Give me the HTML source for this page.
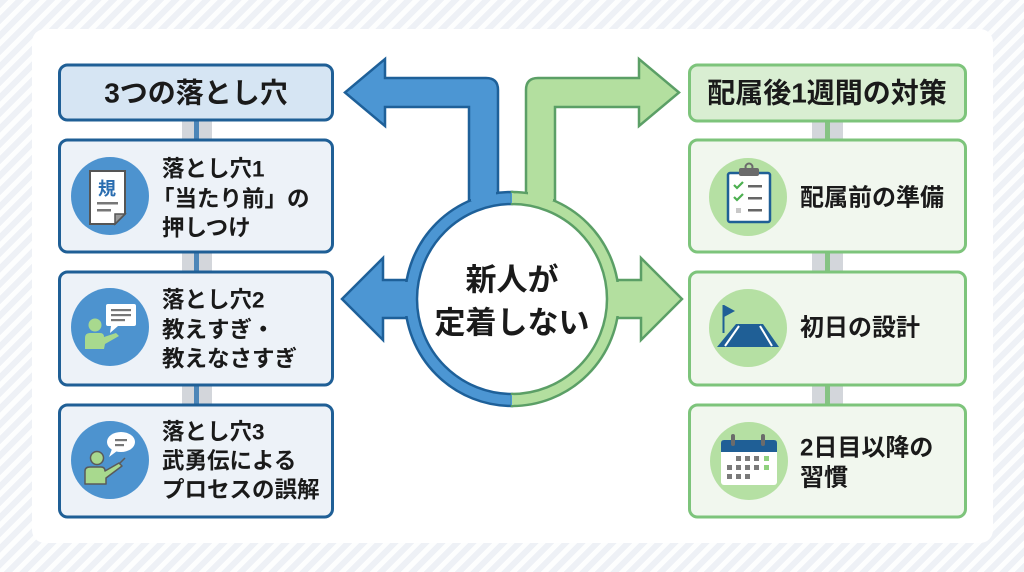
<!DOCTYPE html>
<html><head><meta charset="utf-8">
<style>
html,body{margin:0;padding:0;}
body{width:1024px;height:572px;overflow:hidden;
background:#eef1f6;
background-image:repeating-linear-gradient(135deg, rgba(255,255,255,0) 0px, rgba(255,255,255,0) 6px, rgba(255,255,255,0.9) 6px, rgba(255,255,255,0.9) 11px);
font-family:"Liberation Sans","Noto Sans CJK JP",sans-serif;}
svg{position:absolute;left:0;top:0;}
text{font-family:"Liberation Sans","Noto Sans CJK JP",sans-serif;font-weight:bold;fill:#1a1a1a;}
</style></head>
<body>
<svg width="1024" height="572" viewBox="0 0 1024 572" xmlns="http://www.w3.org/2000/svg">
  <!-- panel -->
  <rect x="32" y="29" width="961" height="514" rx="13" fill="#ffffff"/>

  <!-- connectors left -->
  <rect x="182" y="118" width="30" height="290" fill="#d3d6db"/>
  <rect x="194" y="118" width="5" height="290" fill="#4d86b8"/>
  <!-- connectors right -->
  <rect x="812" y="118" width="31" height="290" fill="#d3d6db"/>
  <rect x="825" y="118" width="5" height="290" fill="#86c384"/>

  <!-- left header -->
  <rect x="59.5" y="65" width="273" height="55" rx="8" fill="#d6e5f3" stroke="#1f5f96" stroke-width="3"/>
  <text x="196" y="93" font-size="28" text-anchor="middle" dominant-baseline="central">3つの落とし穴</text>

  <!-- left boxes -->
  <rect x="59.5" y="140" width="273" height="112" rx="8" fill="#edf2f8" stroke="#1f5f96" stroke-width="3"/>
  <rect x="59.5" y="272" width="273" height="113" rx="8" fill="#edf2f8" stroke="#1f5f96" stroke-width="3"/>
  <rect x="59.5" y="405" width="273" height="112" rx="8" fill="#edf2f8" stroke="#1f5f96" stroke-width="3"/>

  <!-- right header -->
  <rect x="689.5" y="65" width="276" height="56" rx="8" fill="#d9eed2" stroke="#7dc47b" stroke-width="3"/>
  <text x="827" y="93" font-size="28" text-anchor="middle" dominant-baseline="central">配属後1週間の対策</text>

  <!-- right boxes -->
  <rect x="689.5" y="140" width="276" height="112" rx="8" fill="#f1f7ee" stroke="#7dc47b" stroke-width="3"/>
  <rect x="689.5" y="272" width="276" height="113" rx="8" fill="#f1f7ee" stroke="#7dc47b" stroke-width="3"/>
  <rect x="689.5" y="405" width="276" height="112" rx="8" fill="#f1f7ee" stroke="#7dc47b" stroke-width="3"/>

  <!-- left texts -->
  <g font-size="22.5">
    <text x="162" y="169" dominant-baseline="central">落とし穴1</text>
    <text x="152" y="199" dominant-baseline="central">「当たり前」の</text>
    <text x="162" y="228" dominant-baseline="central">押しつけ</text>
    <text x="162" y="300" dominant-baseline="central">落とし穴2</text>
    <text x="162" y="330" dominant-baseline="central">教えすぎ・</text>
    <text x="162" y="359" dominant-baseline="central">教えなさすぎ</text>
    <text x="162" y="432" dominant-baseline="central">落とし穴3</text>
    <text x="162" y="461" dominant-baseline="central">武勇伝による</text>
    <text x="162" y="490" dominant-baseline="central">プロセスの誤解</text>
  </g>
  <!-- right texts -->
  <g font-size="24">
    <text x="800" y="198" dominant-baseline="central">配属前の準備</text>
    <text x="800" y="328" dominant-baseline="central">初日の設計</text>
    <text x="800" y="448" dominant-baseline="central">2日目以降の</text>
    <text x="800" y="478" dominant-baseline="central">習慣</text>
  </g>

  <!-- icon 1: document -->
  <circle cx="110" cy="196" r="39" fill="#4d93cf"/>
  <path d="M90 171 L125 171 L125 214 L115 224 L90 224 Z" fill="#ffffff" stroke="#555" stroke-width="2"/>
  <path d="M125 214 L115 214 L115 224 Z" fill="#999" stroke="#555" stroke-width="1.5"/>
  <text x="107" y="189" font-size="18" text-anchor="middle" dominant-baseline="central" style="fill:#2a6db0">規</text>
  <rect x="97" y="202" width="21" height="2.5" fill="#777"/>
  <rect x="97" y="209" width="14" height="2.5" fill="#777"/>

  <!-- icon 2: person + bubble -->
  <circle cx="110" cy="327" r="39" fill="#4d93cf"/>
  <path d="M108 304 L134 304 Q136 304 136 306 L136 324 Q136 326 134 326 L118 326 L110 333 L111 326 L108 326 Q106 326 106 324 L106 306 Q106 304 108 304 Z" fill="#ffffff"/>
  <rect x="111" y="309" width="20" height="2.2" fill="#777"/>
  <rect x="111" y="314" width="20" height="2.2" fill="#777"/>
  <rect x="111" y="319" width="14" height="2.2" fill="#777"/>
  <circle cx="95" cy="325" r="6.5" fill="#a8d98e"/>
  <path d="M85 349 L85 338 Q85 333 90 333 L100 333 Q104 333 104 337 L116 333 L119 336 L105 344 L104 349 Z" fill="#a8d98e"/>

  <!-- icon 3: person + ellipse bubble -->
  <circle cx="110" cy="460" r="39" fill="#4d93cf"/>
  <ellipse cx="121" cy="442" rx="14" ry="10" fill="#ffffff"/>
  <path d="M112 449 L109 457 L117 451 Z" fill="#ffffff"/>
  <rect x="115" y="439" width="12" height="2.2" fill="#777"/>
  <rect x="115" y="444" width="9" height="2.2" fill="#777"/>
  <circle cx="97" cy="458" r="6.5" fill="#a8d98e" stroke="#5a5a5a" stroke-width="1.5"/>
  <path d="M85 484 L85 471 Q85 467 90 467 L101 467 Q105 467 105 471 L119 463 L122 466 L106 478 L106 484 Z" fill="#a8d98e" stroke="#5a5a5a" stroke-width="1.5" stroke-linejoin="round"/>
  <line x1="119" y1="464" x2="125" y2="458" stroke="#5a5a5a" stroke-width="1.5"/>

  <!-- icon R1: clipboard -->
  <circle cx="748" cy="197" r="39" fill="#b5e0a3"/>
  <rect x="728" y="173" width="42" height="49" rx="2" fill="#ffffff" stroke="#1f5f96" stroke-width="2.5"/>
  <rect x="739" y="168" width="20" height="8" rx="2" fill="#6b6b6b"/>
  <circle cx="749" cy="167" r="3.5" fill="none" stroke="#6b6b6b" stroke-width="2"/>
  <path d="M734 185 L737 188 L743 182" fill="none" stroke="#4caf50" stroke-width="2.2"/>
  <path d="M734 197 L737 200 L743 194" fill="none" stroke="#4caf50" stroke-width="2.2"/>
  <rect x="736" y="208" width="5" height="5" fill="#c8c8c8"/>
  <rect x="748" y="185" width="14" height="2.5" fill="#666"/>
  <rect x="748" y="197" width="14" height="2.5" fill="#666"/>
  <rect x="748" y="209" width="14" height="2.5" fill="#666"/>

  <!-- icon R2: flag + road -->
  <circle cx="748" cy="328" r="39" fill="#b5e0a3"/>
  <rect x="722.5" y="305" width="2" height="28" fill="#1f5f96"/>
  <path d="M724 305 L735 311 L724 317 Z" fill="#1f5f96"/>
  <path d="M736 324 L763 324 L779 347 L717 347 Z" fill="#1f5f96"/>
  <path d="M739 326 L725 346" stroke="#ffffff" stroke-width="2"/>
  <path d="M760 326 L772 346" stroke="#ffffff" stroke-width="2"/>

  <!-- icon R3: calendar -->
  <circle cx="749" cy="461" r="39" fill="#b5e0a3"/>
  <rect x="721" y="440" width="56" height="45" rx="3" fill="#ffffff"/>
  <path d="M721 452 L721 443 Q721 440 724 440 L774 440 Q777 440 777 443 L777 452 Z" fill="#1f5f96"/>
  <rect x="731" y="434" width="4" height="12" rx="2" fill="#6b6b6b"/>
  <rect x="761" y="434" width="4" height="12" rx="2" fill="#6b6b6b"/>
  <g fill="#7a7a7a">
    <rect x="736" y="456" width="5" height="5"/><rect x="745" y="456" width="5" height="5"/><rect x="754" y="456" width="5" height="5"/>
    <rect x="727" y="465" width="5" height="5"/><rect x="736" y="465" width="5" height="5"/><rect x="745" y="465" width="5" height="5"/><rect x="754" y="465" width="5" height="5"/>
    <rect x="727" y="474" width="5" height="5"/><rect x="736" y="474" width="5" height="5"/><rect x="745" y="474" width="5" height="5"/>
  </g>
  <rect x="764" y="456" width="5" height="5" fill="#8fd17e"/>
  <rect x="764" y="465" width="5" height="5" fill="#8fd17e"/>

  <!-- arrows blue -->
  <g fill="#4c96d3" stroke="#1e6099" stroke-width="2.5" stroke-linejoin="miter">
    <path d="M469 210 L469 107 L385 107 L385 126 L345 92.5 L385 59 L385 78 L486 78 Q498 78 498 90 L498 210 Z"/>
    <path d="M420 280 L383 280 L383 258 L342 299 L383 340 L383 318 L420 318 Z"/>
  </g>
  <!-- arrows green -->
  <g fill="#b3df9f" stroke="#5b9f66" stroke-width="2.5" stroke-linejoin="miter">
    <path d="M555 210 L555 107 L639 107 L639 126 L679 92.5 L639 59 L639 78 L538 78 Q526 78 526 90 L526 210 Z"/>
    <path d="M604 280 L641 280 L641 258 L682 299 L641 340 L641 318 L604 318 Z"/>
  </g>

  <!-- ring -->
  <circle cx="512" cy="299" r="95" fill="#ffffff"/>
  <path d="M512 192 A107 107 0 0 0 512 406 L512 394 A95 95 0 0 1 512 204 Z" fill="#4c96d3" stroke="#1e6099" stroke-width="2.5"/>
  <path d="M512 192 A107 107 0 0 1 512 406 L512 394 A95 95 0 0 0 512 204 Z" fill="#b3df9f" stroke="#5b9f66" stroke-width="2.5"/>
  <!-- junction patches -->
  <rect x="471" y="186" width="25" height="15" fill="#4c96d3"/>
  <rect x="528" y="186" width="25" height="15" fill="#b3df9f"/>
  <rect x="401" y="282" width="14" height="34" fill="#4c96d3"/>
  <rect x="609" y="282" width="14" height="34" fill="#b3df9f"/>
  <!-- split line cleanup -->
  <rect x="511" y="193" width="2" height="10" fill="#4c96d3"/>
  <rect x="512" y="193" width="1.5" height="10" fill="#b3df9f"/>
  <rect x="511" y="395" width="2" height="10" fill="#4c96d3"/>
  <rect x="512" y="395" width="1.5" height="10" fill="#b3df9f"/>

  <!-- center text -->
  <text x="512" y="280" font-size="31" text-anchor="middle" dominant-baseline="central">新人が</text>
  <text x="512" y="323" font-size="31" text-anchor="middle" dominant-baseline="central">定着しない</text>
</svg>
</body></html>
